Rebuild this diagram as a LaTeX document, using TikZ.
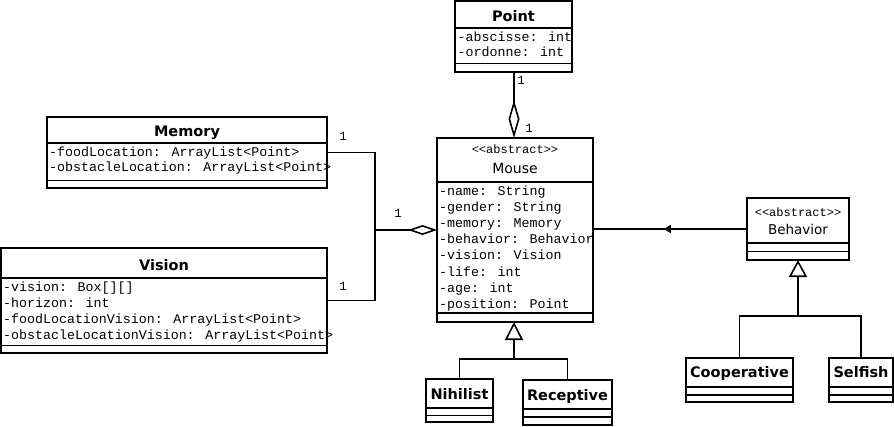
\documentclass[tikz,border=0pt]{standalone}
\usepackage{fontspec}
\setmainfont{DejaVu Sans}
\newfontfamily\umlmono{Liberation Mono}
\usetikzlibrary{arrows.meta,decorations.markings,fit}
\begin{document}
\begin{tikzpicture}[x=1pt,y=-1pt,
  umlbox/.style={draw, line width=1.6pt, inner sep=0pt, outer sep=0pt},
  sepline/.style={line width=1.6pt},
  conn/.style={line width=1.6pt},
  ctitle/.style={font=\bfseries\fontsize{14.5}{14}\selectfont, anchor=base, inner sep=0pt},
  cname/.style={font=\fontsize{14}{14}\selectfont, anchor=base, inner sep=0pt},
  stereo/.style={font=\umlmono\fontsize{12}{12}\selectfont, anchor=base, inner sep=0pt},
  attr/.style={font=\umlmono\fontsize{13.3}{14}\selectfont, anchor=base west, inner sep=0pt},
  mult/.style={font=\umlmono\fontsize{12.5}{12}\selectfont, anchor=base, inner sep=0pt}
]
\useasboundingbox (0,0) rectangle (894,426);

% ---------- Point ----------
\node[umlbox, fit={(455,1) (572,72)}] (point) {};
\draw[sepline] (455,28) -- (572,28);
\draw[sepline] (455,63.5) -- (572,63.5);
\node[ctitle] (pointT) at (513.5,21.5) {Point};
\node[attr] (pa1) at (457.5,41.7) {-abscisse: int};
\node[attr] (pa2) at (457.5,56.7) {-ordonne: int};

% ---------- Memory ----------
\node[umlbox, fit={(47,117) (327,188)}] (memory) {};
\draw[sepline] (47,143) -- (327,143);
\draw[sepline] (47,180.5) -- (327,180.5);
\node[ctitle] (memT) at (187,136.5) {Memory};
\node[attr] (ma1) at (49,156) {-foodLocation: ArrayList<Point>};
\node[attr] (ma2) at (49,171.7) {-obstacleLocation: ArrayList<Point>};

% ---------- Vision ----------
\node[umlbox, fit={(1,248) (327,353)}] (vision) {};
\draw[sepline] (1,278) -- (327,278);
\draw[sepline] (1,345.5) -- (327,345.5);
\node[ctitle] (visT) at (164,270) {Vision};
\node[attr] (va1) at (3,291.7) {-vision: Box[][]};
\node[attr] (va2) at (3,307.7) {-horizon: int};
\node[attr] (va3) at (3,323.7) {-foodLocationVision: ArrayList<Point>};
\node[attr] (va4) at (3,339.5) {-obstacleLocationVision: ArrayList<Point>};

% ---------- Mouse ----------
\node[umlbox, fit={(437,138) (593,322)}] (mouse) {};
\draw[sepline] (437,182) -- (593,182);
\draw[sepline] (437,313) -- (593,313);
\node[stereo] (mouseS) at (515,153) {<<abstract>>};
\node[cname] (mouseT) at (515,173) {Mouse};
\node[attr] (mo1) at (439,195) {-name: String};
\node[attr] (mo2) at (439,211.2) {-gender: String};
\node[attr] (mo3) at (439,227.4) {-memory: Memory};
\node[attr] (mo4) at (439,243.6) {-behavior: Behavior};
\node[attr] (mo5) at (439,259.8) {-vision: Vision};
\node[attr] (mo6) at (439,276) {-life: int};
\node[attr] (mo7) at (439,292.2) {-age: int};
\node[attr] (mo8) at (439,308.4) {-position: Point};

% ---------- Behavior ----------
\node[umlbox, fit={(747,198) (849,260)}] (behavior) {};
\draw[sepline] (747,243) -- (849,243);
\draw[sepline] (747,251.5) -- (849,251.5);
\node[stereo] (behS) at (798,216) {<<abstract>>};
\node[cname, font=\fontsize{13.5}{14}\selectfont] (behT) at (798,234) {Behavior};

% ---------- Nihilist ----------
\node[umlbox, fit={(426,379) (493,422)}] (nihilist) {};
\draw[sepline] (426,408) -- (493,408);
\draw[sepline] (426,415.5) -- (493,415.5);
\node[ctitle] (nihT) at (459.5,399) {Nihilist};

% ---------- Receptive ----------
\node[umlbox, fit={(523,380) (612,425)}] (receptive) {};
\draw[sepline] (523,409) -- (612,409);
\draw[sepline] (523,417) -- (612,417);
\node[ctitle] (recT) at (567.5,400.5) {Receptive};

% ---------- Cooperative ----------
\node[umlbox, fit={(686,358) (793,402)}] (coop) {};
\draw[sepline] (686,387) -- (793,387);
\draw[sepline] (686,395) -- (793,395);
\node[ctitle] (coopT) at (739.5,377) {Cooperative};

% ---------- Selfish ----------
\node[umlbox, fit={(829,358) (893,402)}] (selfish) {};
\draw[sepline] (829,387) -- (893,387);
\draw[sepline] (829,395) -- (893,395);
\node[ctitle] (selT) at (861,377) {Selfish};

% ---------- Connectors ----------
% Point -- Mouse aggregation
\draw[conn, -{Diamond[open, length=38pt, width=11pt, line width=1.6pt]}]
  (point.south -| 514,0) -- (mouse.north -| 514,0);
\node[mult] (m1) at (521,84) {1};
\node[mult] (m2) at (529,132) {1};

% Memory / Vision -- Mouse aggregation
\coordinate (jn) at (mouse.west -| 375,0);
\draw[conn] (memory.east) -| (jn) |- (vision.east);
\draw[conn, -{Diamond[open, length=29pt, width=10pt, line width=1.6pt]}] (jn) -- (mouse.west);
\node[mult] (m3) at (343,140) {1};
\node[mult] (m4) at (343,290) {1};
\node[mult] (m5) at (398,217) {1};

% Behavior -- Mouse association with navigability mark
\draw[conn, postaction={decorate},
  decoration={markings, mark=at position 0.54 with {\arrow{Triangle[length=7pt, width=8pt]}}}]
  (behavior.west) -- (behavior.west -| mouse.east);

% Mouse generalisation
\coordinate (jm) at (514,359);
\draw[conn] (nihilist.north) |- (jm);
\draw[conn] (receptive.north) |- (jm);
\draw[conn, -{Triangle[open, length=18pt, width=18pt, line width=1.6pt]}] (jm) -- (mouse.south -| jm);

% Behavior generalisation
\coordinate (jb) at (798,316);
\draw[conn] (coop.north) |- (jb);
\draw[conn] (selfish.north) |- (jb);
\draw[conn, -{Triangle[open, length=17pt, width=18pt, line width=1.6pt]}] (jb) -- (behavior.south);
\end{tikzpicture}
\end{document}
